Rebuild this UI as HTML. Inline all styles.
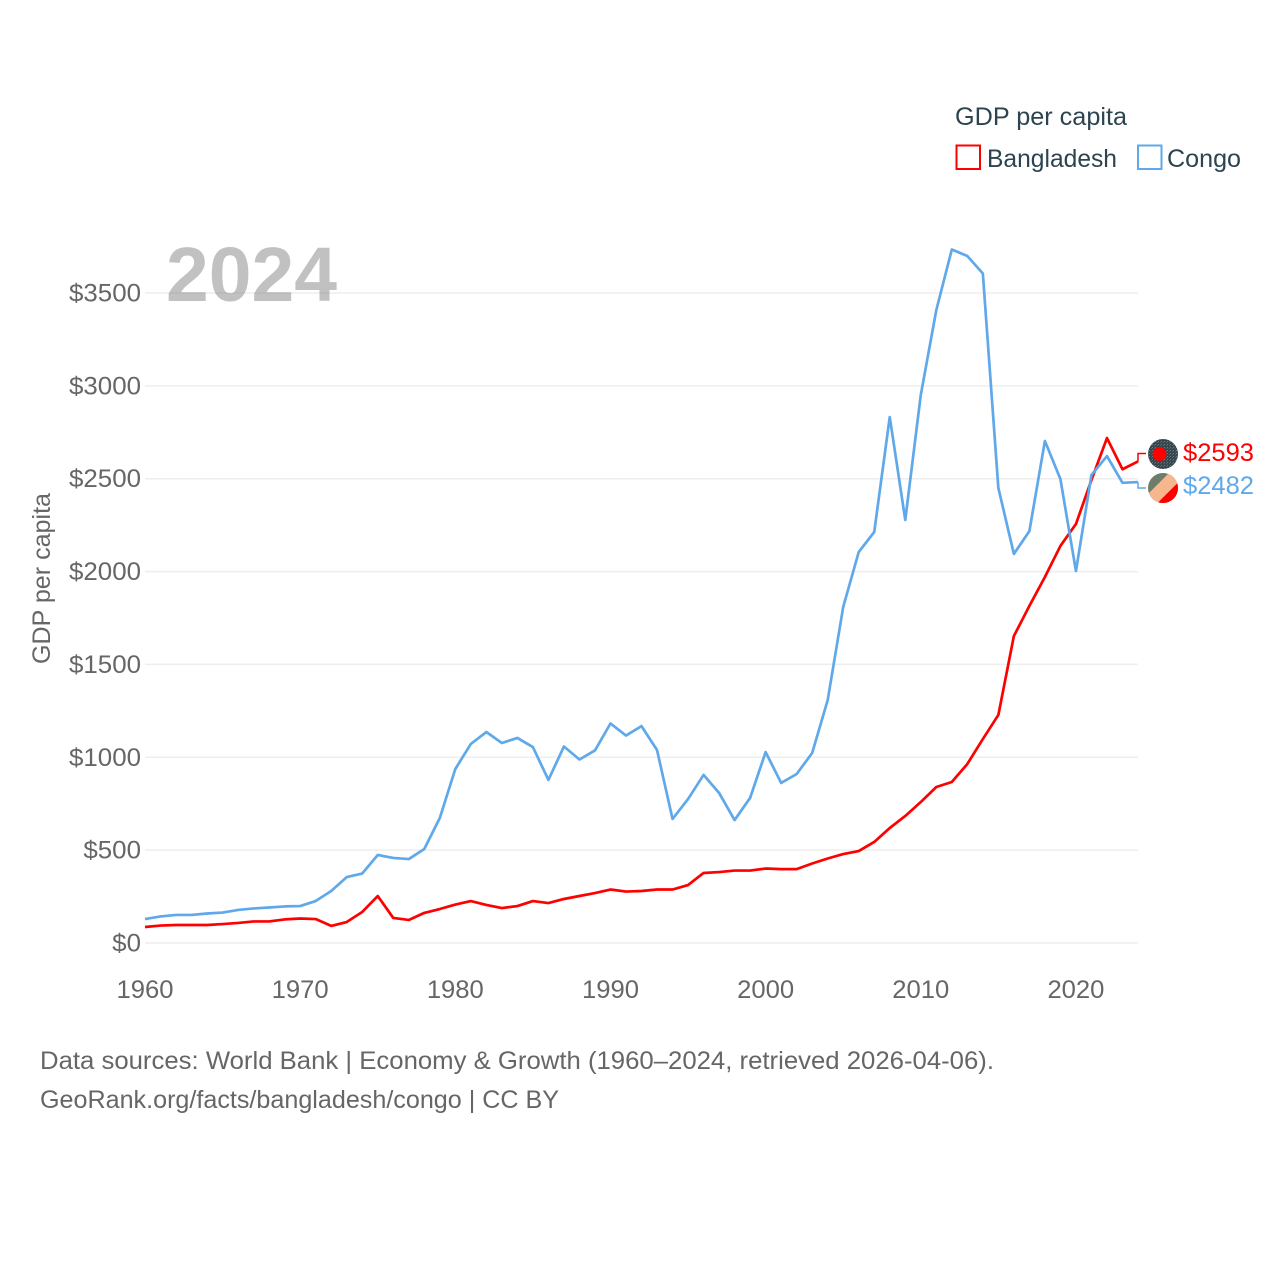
<!DOCTYPE html>
<html lang="en">
<head>
<meta charset="utf-8">
<title>GDP per capita: Bangladesh and Congo</title>
<style>
html,body{margin:0;padding:0;background:#fff;width:1280px;height:1280px;overflow:hidden}
svg{display:block}
text{font-family:"Liberation Sans",sans-serif}
</style>
</head>
<body>
<svg id="chart" xmlns="http://www.w3.org/2000/svg" width="1280" height="1280" viewBox="0 0 1280 1280">
  <defs>
    <pattern id="dark-texture" width="3" height="3" patternUnits="userSpaceOnUse">
      <rect width="3" height="3" fill="#37474f"></rect>
      <rect x="0" y="0" width="1" height="1" fill="#6d7a80"></rect>
      <rect x="2" y="1" width="1" height="1" fill="#55646b"></rect>
    </pattern>
    <clipPath id="flag-clip"><circle cx="1163" cy="488" r="15"></circle></clipPath>
  </defs>
  <rect width="1280" height="1280" fill="#ffffff"></rect>

  <g id="grid"></g>
  <g id="y-ticks"></g>
  <g id="x-ticks"></g>

  <text x="166" y="301" font-size="77" font-weight="700" fill="#777777" opacity="0.45" textLength="171" lengthAdjust="spacingAndGlyphs">2024</text>

  <text transform="translate(50,664) rotate(-90)" font-size="25" fill="#666666" textLength="171" lengthAdjust="spacingAndGlyphs">GDP per capita</text>

  <g id="series"></g>
  <g id="connectors"></g>

  <g>
    <circle cx="1163" cy="454" r="15" fill="url(#dark-texture)"></circle>
    <circle cx="1159.5" cy="454" r="7" fill="#ff0000"></circle>
  </g>
  <g clip-path="url(#flag-clip)">
    <rect x="1148" y="473" width="30" height="30" fill="#6f7c6a"></rect>
    <polygon points="1172,470 1190.6,470 1150.6,510 1132,510" fill="#f6b78f"></polygon>
    <polygon points="1190.6,470 1190.6,510 1150.6,510" fill="#ff0000"></polygon>
  </g>

  <text x="1183" y="461" font-size="25" fill="#ff0000" textLength="71" lengthAdjust="spacingAndGlyphs">$2593</text>
  <text x="1183" y="494" font-size="25" fill="#5fa8ea" textLength="71" lengthAdjust="spacingAndGlyphs">$2482</text>

  <g>
    <text x="955" y="125" font-size="25" fill="#2c444f" textLength="172" lengthAdjust="spacingAndGlyphs">GDP per capita</text>
    <g>
      <rect x="956.5" y="145.5" width="23.5" height="23.5" fill="#ffffff" stroke="#ff0000" stroke-width="2"></rect>
      <text x="987" y="167" font-size="25" fill="#2c444f" textLength="130" lengthAdjust="spacingAndGlyphs">Bangladesh</text>
    </g>
    <g>
      <rect x="1138" y="145.5" width="23.5" height="23.5" fill="#ffffff" stroke="#5fa8ea" stroke-width="2"></rect>
      <text x="1167" y="167" font-size="25" fill="#2c444f" textLength="74" lengthAdjust="spacingAndGlyphs">Congo</text>
    </g>
  </g>

  <text x="40" y="1069" font-size="25" fill="#666666" textLength="954" lengthAdjust="spacingAndGlyphs">Data sources: World Bank | Economy &amp; Growth (1960–2024, retrieved 2026-04-06).</text>
  <text x="40" y="1108" font-size="25" fill="#666666" textLength="519" lengthAdjust="spacingAndGlyphs">GeoRank.org/facts/bangladesh/congo | CC BY</text>
</svg>

<script>
const startYear = 1960;
const bangladeshValues = [86,94,97,97,97,102,108,116,116,127,132,129,92,113,167,253,135,124,162,183,207,226,205,188,199,226,215,237,253,269,288,277,280,288,288,312,377,382,390,390,401,398,398,428,455,479,495,544,619,684,759,840,867,964,1098,1228,1653,1815,1971,2138,2256,2493,2719,2551,2593];
const congoValues = [129,143,151,151,159,164,178,186,191,197,199,226,280,355,374,474,458,452,506,673,937,1072,1136,1077,1104,1055,878,1058,988,1037,1182,1117,1168,1039,668,775,905,808,662,781,1028,862,910,1023,1308,1809,2105,2213,2832,2278,2951,3408,3734,3699,3605,2450,2095,2218,2703,2498,2003,2520,2622,2478,2482];
const yTickValues = [0,500,1000,1500,2000,2500,3000,3500];
const xTickYears = [1960,1970,1980,1990,2000,2010,2020];
const yTickLabels = ["$0","$500","$1000","$1500","$2000","$2500","$3000","$3500"];

const SVG_NS = "http://www.w3.org/2000/svg";
const plotLeft = 145, plotRight = 1138, plotBottom = 943, pxPerDollar = 650 / 3500;
const lastIndex = bangladeshValues.length - 1;
function xScale(year) { return plotLeft + (year - startYear) * (plotRight - plotLeft) / lastIndex; }
function yScale(value) { return plotBottom - value * pxPerDollar; }

const gridGroup = document.getElementById("grid");
const yTickGroup = document.getElementById("y-ticks");
const xTickGroup = document.getElementById("x-ticks");
const seriesGroup = document.getElementById("series");
const connectorGroup = document.getElementById("connectors");

yTickValues.forEach(function (value, i) {
  const line = document.createElementNS(SVG_NS, "line");
  line.setAttribute("x1", plotLeft);
  line.setAttribute("x2", plotRight);
  line.setAttribute("y1", yScale(value));
  line.setAttribute("y2", yScale(value));
  line.setAttribute("stroke", "#eeeeee");
  line.setAttribute("stroke-width", "1.5");
  
  
  gridGroup.appendChild(line);

  const label = document.createElementNS(SVG_NS, "text");
  label.textContent = yTickLabels[i];
  label.setAttribute("x", 141);
  label.setAttribute("y", yScale(value) + 8.5);
  label.setAttribute("text-anchor", "end");
  label.setAttribute("font-size", "25");
  label.setAttribute("fill", "#666666");
  label.setAttribute("textLength", 14.4 * yTickLabels[i].length);
  label.setAttribute("lengthAdjust", "spacingAndGlyphs");
  
  
  yTickGroup.appendChild(label);
});

xTickYears.forEach(function (year) {
  const label = document.createElementNS(SVG_NS, "text");
  label.textContent = String(year);
  label.setAttribute("x", xScale(year));
  label.setAttribute("y", 998);
  label.setAttribute("text-anchor", "middle");
  label.setAttribute("font-size", "25");
  label.setAttribute("fill", "#666666");
  label.setAttribute("textLength", "57");
  label.setAttribute("lengthAdjust", "spacingAndGlyphs");
  
  
  xTickGroup.appendChild(label);
});

function pathFor(values) {
  return values.map(function (value, i) {
    return (i ? "L" : "M") + xScale(startYear + i).toFixed(2) + "," + yScale(value).toFixed(2);
  }).join(" ");
}

const bangladeshLine = document.createElementNS(SVG_NS, "path");
bangladeshLine.setAttribute("d", pathFor(bangladeshValues));
bangladeshLine.setAttribute("fill", "none");
bangladeshLine.setAttribute("stroke", "#ff0000");
bangladeshLine.setAttribute("stroke-width", "2.7");
bangladeshLine.setAttribute("stroke-linejoin", "round");


seriesGroup.appendChild(bangladeshLine);

const congoLine = document.createElementNS(SVG_NS, "path");
congoLine.setAttribute("d", pathFor(congoValues));
congoLine.setAttribute("fill", "none");
congoLine.setAttribute("stroke", "#5fa8ea");
congoLine.setAttribute("stroke-width", "2.7");
congoLine.setAttribute("stroke-linejoin", "round");


seriesGroup.appendChild(congoLine);

const bangladeshConnector = document.createElementNS(SVG_NS, "path");
bangladeshConnector.setAttribute("d", "M" + plotRight + "," + yScale(bangladeshValues[lastIndex]).toFixed(2) + " V453.5 H1146");
bangladeshConnector.setAttribute("fill", "none");
bangladeshConnector.setAttribute("stroke", "#ff0000");
bangladeshConnector.setAttribute("stroke-width", "1.5");


connectorGroup.appendChild(bangladeshConnector);

const congoConnector = document.createElementNS(SVG_NS, "path");
congoConnector.setAttribute("d", "M" + plotRight + "," + yScale(congoValues[lastIndex]).toFixed(2) + " V488 H1146");
congoConnector.setAttribute("fill", "none");
congoConnector.setAttribute("stroke", "#5fa8ea");
congoConnector.setAttribute("stroke-width", "1.5");


connectorGroup.appendChild(congoConnector);
</script>
</body>
</html>
